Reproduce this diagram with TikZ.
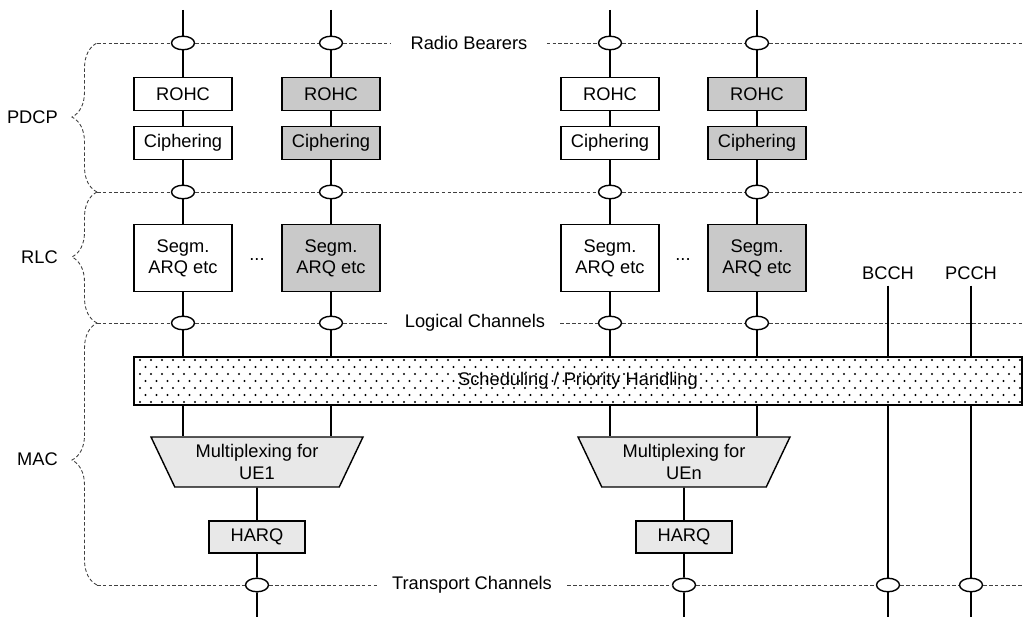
\documentclass[tikz,border=0pt]{standalone}
\usepackage{fontspec}
\setmainfont{Liberation Sans}
\usetikzlibrary{shapes.geometric, decorations.pathreplacing, positioning}
\tikzset{x=0.02cm, y=-0.02cm, % One unit is one pixel of the original drawing
every node/.style={font=\fontsize{10.4}{12}\selectfont},
block/.style={ % Protocol entity box
draw, thick, minimum width=1.96cm, minimum height=0.66cm,
inner sep=1pt, align=center},
shaded/.style={fill=black!21}, % Entities of the second bearer
light/.style={fill=black!9},
sap/.style={ % Service access point on a channel line
draw, thick, ellipse, fill=white,
minimum width=0.46cm, minimum height=0.27cm, inner sep=0pt},
mux/.style={ % Multiplexing entity
draw, thick, fill=black!9, trapezium, shape border rotate=180,
trapezium angle=58, trapezium stretches body,
minimum width=4.24cm, minimum height=1cm, inner sep=1pt, align=center},
chan/.style={draw, line width=0.5pt, black!75, dash pattern=on 2pt off 1.3pt},
chanlabel/.style={inner xsep=0.38cm},
link/.style={draw, line width=1.1pt},
layer/.style={ % Dashed brace round one protocol layer
draw, line width=0.5pt, black!75, dash pattern=on 2pt off 1.3pt,
decorate, decoration={brace, amplitude=0.5cm}}}

\begin{document}
\begin{tikzpicture}
    \useasboundingbox (0,0) rectangle (1027,617);

    % PDCP
    \node[block] (rohc1) at (183,94) {ROHC};
    \node[block, shaded] (rohc2) at (331,94) {ROHC};
    \node[block] (rohc3) at (610,94) {ROHC};
    \node[block, shaded] (rohc4) at (757,94) {ROHC};
    \node[block] (ciph1) at (183,143) {Ciphering};
    \node[block, shaded] (ciph2) at (331,143) {Ciphering};
    \node[block] (ciph3) at (610,143) {Ciphering};
    \node[block, shaded] (ciph4) at (757,143) {Ciphering};

    % RLC
    \node[block, minimum height=1.34cm] (segm1) at (183,258) {Segm.\\ARQ etc};
    \node[block, shaded, minimum height=1.34cm] (segm2) at (331,258) {Segm.\\ARQ etc};
    \node[block, minimum height=1.34cm] (segm3) at (610,258) {Segm.\\ARQ etc};
    \node[block, shaded, minimum height=1.34cm] (segm4) at (757,258) {Segm.\\ARQ etc};
    \node (dots1) at (257,260) {...};
    \node (dots2) at (683,260) {...};
    \node (bcch) at (888,273) {BCCH};
    \node (pcch) at (971,273) {PCCH};

    % MAC
    \node[draw, thick, minimum width=17.76cm, minimum height=0.96cm] (sched) at (578,381) {Scheduling / Priority Handling};
    \begin{scope}
        \clip (sched.south west) rectangle (sched.north east);
        \foreach \r in {0,...,6}
            \foreach \c in {0,...,81}
                \fill ({140+11*\c+5.5*mod(\r,2)},{360+7*\r}) circle (0.021cm);
    \end{scope}
    \node[mux] (mux1) at (257,462) {Multiplexing for\\UE1};
    \node[mux] (mux2) at (684,462) {Multiplexing for\\UEn};
    \node[block, light, minimum width=1.92cm, minimum height=0.64cm] (harq1) at (257,537) {HARQ};
    \node[block, light, minimum width=1.92cm, minimum height=0.64cm] (harq2) at (684,537) {HARQ};

    % channel lines and their access points
    \node[sap] (rb1) at (183,43) {};
    \node[sap] (rb2) at (331,43) {};
    \node[sap] (rb3) at (610,43) {};
    \node[sap] (rb4) at (757,43) {};
    \node[sap] (pd1) at (183,192) {};
    \node[sap] (pd2) at (331,192) {};
    \node[sap] (pd3) at (610,192) {};
    \node[sap] (pd4) at (757,192) {};
    \node[sap] (lc1) at (183,323) {};
    \node[sap] (lc2) at (331,323) {};
    \node[sap] (lc3) at (610,323) {};
    \node[sap] (lc4) at (757,323) {};
    \node[sap] (tr1) at (257,585) {};
    \node[sap] (tr2) at (684,585) {};
    \node[sap] (tr3) at (888,585) {};
    \node[sap] (tr4) at (971,585) {};
    \node[chanlabel] (rbl) at (469,43) {Radio Bearers};
    \node[chanlabel, inner xsep=0.3cm] (lcl) at (475,323) {Logical Channels};
    \node[chanlabel, inner xsep=0.3cm] (trl) at (472,585) {Transport Channels};

    \coordinate (l0) at (97,43);
    \coordinate (l1) at (97,192);
    \coordinate (l2) at (97,323);
    \coordinate (l3) at (97,585);
    \coordinate (rbend) at (1022,43);
    \coordinate (pdend) at (1022,192);
    \coordinate (lcend) at (1022,323);
    \coordinate (trend) at (1022,585);

    \draw[chan] (l0) -- (rb1) -- (rb2) -- (rbl) -- (rb3) -- (rb4) -- (rbend);
    \draw[chan] (l1) -- (pd1) -- (pd2) -- (pd3) -- (pd4) -- (pdend);
    \draw[chan] (l2) -- (lc1) -- (lc2) -- (lcl) -- (lc3) -- (lc4) -- (lcend);
    \draw[chan] (l3) -- (tr1) -- (trl) -- (tr2) -- (tr3) -- (tr4) -- (trend);

    % layers
    \node[anchor=east] (pdcp) at (64,117) {PDCP};
    \node[anchor=east] (rlc) at (64,257) {RLC};
    \node[anchor=east] (mac) at (64,459) {MAC};
    \draw[layer, decoration={aspect=0.503}] (l1) -- (l0);
    \draw[layer, decoration={aspect=0.504}] (l2) -- (l1);
    \draw[layer, decoration={aspect=0.477}] (l3) -- (l2);

    % data flow
    \coordinate (top1) at (183,10);
    \coordinate (top2) at (331,10);
    \coordinate (top3) at (610,10);
    \coordinate (top4) at (757,10);
    \coordinate (bot1) at (257,617);
    \coordinate (bot2) at (684,617);
    \coordinate (bot3) at (888,617);
    \coordinate (bot4) at (971,617);
    \draw[link] (top1) -- (rb1) -- (rohc1) -- (ciph1) -- (pd1) -- (segm1) -- (lc1) -- (lc1 |- sched.north);
    \draw[link] (top2) -- (rb2) -- (rohc2) -- (ciph2) -- (pd2) -- (segm2) -- (lc2) -- (lc2 |- sched.north);
    \draw[link] (top3) -- (rb3) -- (rohc3) -- (ciph3) -- (pd3) -- (segm3) -- (lc3) -- (lc3 |- sched.north);
    \draw[link] (top4) -- (rb4) -- (rohc4) -- (ciph4) -- (pd4) -- (segm4) -- (lc4) -- (lc4 |- sched.north);
    \draw[link] (sched.south -| lc1) -- (mux1.north -| lc1);
    \draw[link] (sched.south -| lc2) -- (mux1.north -| lc2);
    \draw[link] (sched.south -| lc3) -- (mux2.north -| lc3);
    \draw[link] (sched.south -| lc4) -- (mux2.north -| lc4);
    \draw[link] (mux1) -- (harq1) -- (tr1) -- (bot1);
    \draw[link] (mux2) -- (harq2) -- (tr2) -- (bot2);
    \draw[link] (bcch) -- (bcch |- sched.north);
    \draw[link] (pcch) -- (pcch |- sched.north);
    \draw[link] (sched.south -| bcch) -- (tr3) -- (bot3);
    \draw[link] (sched.south -| pcch) -- (tr4) -- (bot4);

\end{tikzpicture}
\end{document}
